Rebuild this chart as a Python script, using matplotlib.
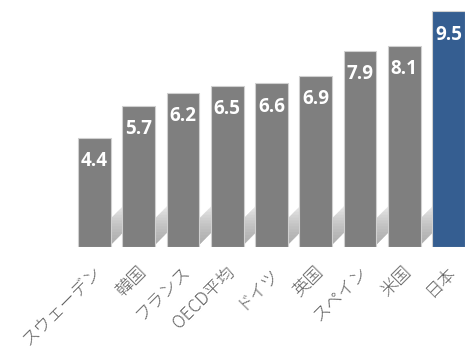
import matplotlib
matplotlib.use("Agg")
import matplotlib.pyplot as plt
import matplotlib.transforms as mtransforms
from matplotlib.patches import Polygon
import numpy as np

categories = ["スウェーデン", "韓国", "フランス", "OECD平均", "ドイツ", "英国", "スペイン", "米国", "日本"]
values = [4.4, 5.7, 6.2, 6.5, 6.6, 6.9, 7.9, 8.1, 9.5]
colors = ["#7f7f7f"] * 8 + ["#355e91"]

plt.rcParams['font.family'] = ['Noto Sans CJK JP', 'DejaVu Sans']

W, H = 465, 353
fig = plt.figure(figsize=(W / 100, H / 100), dpi=100)
ax = fig.add_axes([72.4 / W, 106 / H, 398.25 / W, 248 / H])
ax.set_xlim(-0.5, 8.5)
ax.set_ylim(0, 10)

x = np.arange(len(categories))
bw = 0.74

# soft diagonal shadows behind bars
for xi in x:
    n = 16
    for k in range(n):
        frac = (k + 1) / n
        h = 1.9 * frac
        dx = 1.05 * frac
        poly = Polygon([(xi - bw / 2 + 0.1, 0), (xi + bw / 2 - 0.05, 0),
                        (xi + bw / 2 - 0.05 + dx, h), (xi - bw / 2 + 0.1 + dx, h)],
                       closed=True, facecolor="#909090", edgecolor="none",
                       alpha=0.075, zorder=1)
        ax.add_patch(poly)

bars = ax.bar(x, values, width=bw, color=colors, edgecolor="#d0d0d0",
              linewidth=0.8, zorder=3)

for xi, v in zip(x, values):
    ax.annotate(f"{v}", xy=(xi, v), xytext=(0, -9.5), textcoords="offset points",
                ha="center", va="top", color="white", fontsize=13.5,
                fontweight="bold", family=["Open Sans", "DejaVu Sans"], zorder=4)

ax.set_xticks(x)
ax.set_xticklabels(categories, rotation=45, ha="right", rotation_mode="anchor",
                   fontsize=12.5, color="#5f5f5f", fontweight="light")
ax.tick_params(axis="x", length=0, pad=10)
offset = mtransforms.ScaledTranslation(-2 / 100, -2 / 100, fig.dpi_scale_trans)
for lbl in ax.get_xticklabels():
    lbl.set_transform(lbl.get_transform() + offset)
ax.set_yticks([])
for s in ax.spines.values():
    s.set_visible(False)

fig.savefig("out.png", dpi=100)
